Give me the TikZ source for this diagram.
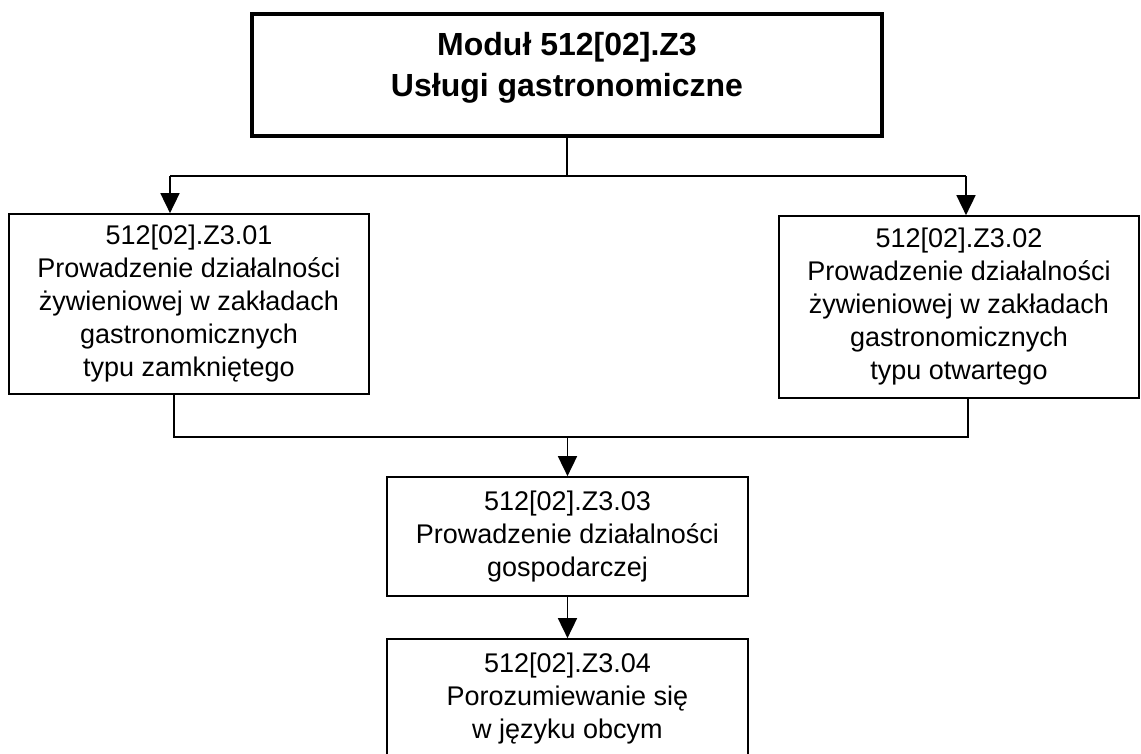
\documentclass[tikz,border=0pt]{standalone}
\usepackage{fontspec}
\setmainfont{Liberation Sans}
\usetikzlibrary{arrows.meta}
\tikzset{
  box/.style={draw, line width=1.7pt, inner sep=0pt, align=center,
    font=\fontsize{27}{33}\selectfont},
  topbox/.style={draw, line width=3.6pt, inner sep=0pt},
  titletext/.style={align=center, inner sep=0pt, font=\bfseries\fontsize{32}{41}\selectfont},
  conn/.style={line width=1.7pt},
  arr/.style={line width=1.7pt, -{Triangle[width=19pt,length=20pt]}},
}
\begin{document}
\begin{tikzpicture}[x=1pt,y=-1pt]
\useasboundingbox (0,0) rectangle (1141,753);
\clip (0,0) rectangle (1141,753);
\node[topbox, minimum width=630pt, minimum height=122pt] (top) at (567,75) {};
\node[titletext] (title) at (567,68) {Moduł 512[02].Z3\\Usługi gastronomiczne};
\node[box, minimum width=360pt, minimum height=180pt] (left) at (189,304)
  {512[02].Z3.01\\Prowadzenie działalności\\żywieniowej w zakładach\\gastronomicznych\\typu zamkniętego};
\node[box, minimum width=360pt, minimum height=182pt] (right) at (959,307)
  {512[02].Z3.02\\Prowadzenie działalności\\żywieniowej w zakładach\\gastronomicznych\\typu otwartego};
\node[box, minimum width=361pt, minimum height=119pt] (mid) at (567.5,536.5)
  {512[02].Z3.03\\Prowadzenie działalności\\gospodarczej};
\node[box, minimum width=361pt, minimum height=119pt] (bot) at (567.5,698.5)
  {512[02].Z3.04\\Porozumiewanie się\\w języku obcym};
\coordinate (hl) at (170,176);
\coordinate (hr) at (966,176);
\coordinate (bl) at (174,437);
\coordinate (br) at (968,437);
\draw[conn] (top.south) -- (top.south |- hl);
\draw[conn] (hl) -- (hr);
\draw[arr] (hl) -- (hl |- left.north);
\draw[arr] (hr) -- (hr |- right.north);
\draw[conn] (bl |- left.south) -- (bl) -- (br) -- (br |- right.south);
\draw[arr] (mid.north |- bl) -- (mid.north);
\draw[arr] (mid.south) -- (bot.north);
\end{tikzpicture}
\end{document}
